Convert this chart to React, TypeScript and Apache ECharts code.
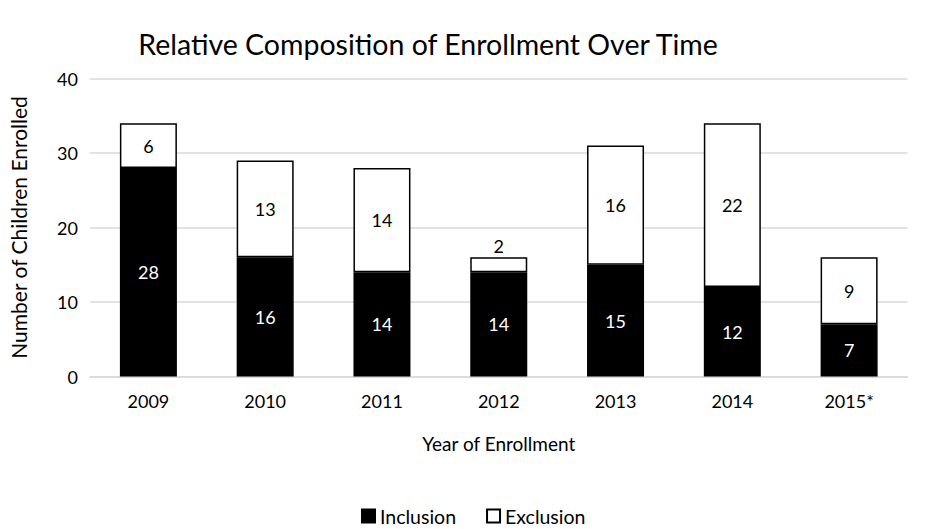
import React, { useEffect, useRef } from "react";
import * as echarts from "echarts";

const categories = ["2009", "2010", "2011", "2012", "2013", "2014", "2015*"];
const inclusion = [28, 16, 14, 14, 15, 12, 7];
const exclusion = [6, 13, 14, 2, 16, 22, 9];
const yMin = 0;
const yMax = 40;
const yInterval = 10;

const FONT = "Lato";

export default function App() {
  const ref = useRef<HTMLDivElement>(null);
  useEffect(() => {
    document.body.style.margin = "0";
    const chart = echarts.init(ref.current!, null, { renderer: "svg" });
    const exclusionData = exclusion.map((v) =>
      v < 4 ? { value: v, label: { position: "top", distance: 2 } } : v
    );
    chart.setOption({
      animation: false,
      backgroundColor: "#ffffff",
      textStyle: { fontFamily: FONT },
      title: {
        text: "Relative Composition of Enrollment Over Time",
        left: 423,
        textAlign: "center",
        top: 24,
        textStyle: { fontFamily: FONT, fontSize: 28.5, fontWeight: "normal", color: "#000" },
      },
      legend: {
        data: [
          { name: "Inclusion", icon: "rect" },
          { name: "Exclusion", icon: "rect" },
        ],
        left: 356,
        bottom: -2,
        itemWidth: 13,
        itemHeight: 13,
        itemGap: 30,
        textStyle: { fontFamily: FONT, fontSize: 19.5, color: "#000" },
      },
      grid: { left: 88.5, right: 33.5, top: 78.5, bottom: 152.5, containLabel: false },
      xAxis: {
        type: "category",
        data: categories,
        name: "Year of Enrollment",
        nameLocation: "middle",
        nameGap: 57,
        nameTextStyle: { fontFamily: FONT, fontSize: 19, color: "#000" },
        axisLine: { lineStyle: { color: "#d9d9d9", width: 1.5 } },
        axisTick: { show: false },
        axisLabel: { fontFamily: FONT, fontSize: 18, color: "#000", margin: 15 },
      },
      yAxis: {
        type: "value",
        min: yMin,
        max: yMax,
        interval: yInterval,
        name: "Number of Children Enrolled",
        nameLocation: "middle",
        nameGap: 61,
        nameTextStyle: { fontFamily: FONT, fontSize: 21, color: "#000" },
        axisLine: { show: false },
        axisTick: { show: false },
        axisLabel: { fontFamily: FONT, fontSize: 18, color: "#000", margin: 12 },
        splitLine: { lineStyle: { color: "#d9d9d9", width: 1.5 } },
      },
      series: [
        {
          name: "Inclusion",
          type: "bar",
          stack: "total",
          data: inclusion,
          barWidth: 57,
          itemStyle: { color: "#000000", borderColor: "#000000", borderWidth: 1.5 },
          label: { show: true, position: "inside", color: "#ffffff", fontFamily: FONT, fontSize: 18 },
        },
        {
          name: "Exclusion",
          type: "bar",
          stack: "total",
          data: exclusionData,
          barWidth: 57,
          itemStyle: { color: "#ffffff", borderColor: "#000000", borderWidth: 1.5 },
          label: { show: true, position: "inside", color: "#000000", fontFamily: FONT, fontSize: 18 },
        },
      ],
    });
    return () => chart.dispose();
  }, []);
  return <div ref={ref} style={{ width: 941, height: 529 }} />;
}
